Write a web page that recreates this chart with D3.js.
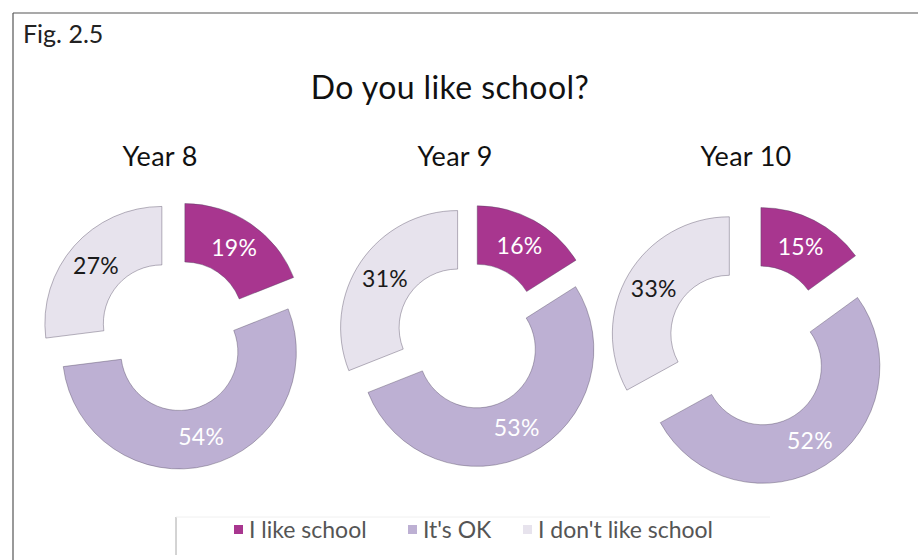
<!DOCTYPE html>
<html>
<head>
<meta charset="utf-8">
<script src="https://cdn.jsdelivr.net/npm/d3@7/dist/d3.min.js"></script>
<style>
  html, body { margin: 0; padding: 0; background: #fff; }
  svg { display: block; font-family: Lato, "Open Sans", sans-serif; }
</style>
</head>
<body>
<svg id="chart" width="918" height="560"></svg>
<script>
// Survey answers (percent) per school year
const years = ["Year 8", "Year 9", "Year 10"];
const categories = ["I like school", "It's OK", "I don't like school"];
const likeSchool = [19, 16, 15];
const itsOk = [54, 53, 52];
const dontLike = [27, 31, 33];

const colors = ["#a8368f", "#bdb0d3", "#e7e3ed"];
const labelColors = ["#ffffff", "#ffffff", "#1a1a1a"];

// Placement of each exploded donut and its heading
const layout = [
  { cx: 175, cy: 335, explode: 17.5, titleX: 160 },
  { cx: 470, cy: 336, explode: 15, titleX: 455 },
  { cx: 750, cy: 346, explode: 24, titleX: 746 }
];
const outerR = 117, innerR = 58.5;

const svg = d3.select("#chart");

// Frame (top and left edges)
svg.append("line").attr("x1", 13).attr("y1", 13).attr("x2", 918).attr("y2", 13)
  .attr("stroke", "#555").attr("stroke-width", 1.2);
svg.append("line").attr("x1", 13).attr("y1", 13).attr("x2", 13).attr("y2", 560)
  .attr("stroke", "#555").attr("stroke-width", 1.2);

svg.append("text").attr("x", 23).attr("y", 43)
  .attr("font-size", 25).attr("fill", "#222").text("Fig. 2.5");

svg.append("text").attr("x", 450).attr("y", 99).attr("text-anchor", "middle")
  .attr("font-size", 32).attr("letter-spacing", 0.4).attr("fill", "#111")
  .text("Do you like school?");

const pie = d3.pie().sort(null).value(d => d.value).startAngle(0).endAngle(2 * Math.PI);
const arc = d3.arc().innerRadius(innerR).outerRadius(outerR);

years.forEach((year, i) => {
  const rows = categories.map((c, k) => ({
    cat: c, k,
    value: [likeSchool, itsOk, dontLike][k][i]
  }));
  const L = layout[i];

  svg.append("text").attr("x", L.titleX).attr("y", 166).attr("text-anchor", "middle")
    .attr("font-size", 27).attr("letter-spacing", 0.3).attr("fill", "#111").text(year);

  const g = svg.append("g").attr("transform", `translate(${L.cx},${L.cy})`);

  const slices = g.selectAll("g.slice").data(pie(rows)).join("g")
    .attr("class", "slice")
    .attr("transform", d => {
      const a = (d.startAngle + d.endAngle) / 2;
      return `translate(${Math.sin(a) * L.explode},${-Math.cos(a) * L.explode})`;
    });

  slices.append("path")
    .attr("d", arc)
    .attr("fill", d => colors[d.data.k])
    .attr("stroke", "rgba(80,70,95,0.45)")
    .attr("stroke-width", 0.9);

  slices.append("text")
    .attr("transform", d => `translate(${arc.centroid(d)})`)
    .attr("text-anchor", "middle")
    .attr("dy", "0.36em")
    .attr("font-size", 23)
    .attr("letter-spacing", 0.3)
    .attr("fill", d => labelColors[d.data.k])
    .text(d => d.data.value + "%");
});

// Legend
const legend = svg.append("g");
legend.append("line").attr("x1", 176).attr("y1", 517).attr("x2", 176).attr("y2", 555)
  .attr("stroke", "#a8a8a8").attr("stroke-width", 1);
legend.append("line").attr("x1", 176).attr("y1", 517).attr("x2", 770).attr("y2", 517)
  .attr("stroke", "#f0f0f0").attr("stroke-width", 1);

const legendX = [234, 408, 523];
categories.forEach((c, k) => {
  legend.append("rect").attr("x", legendX[k]).attr("y", 525).attr("width", 9).attr("height", 9)
    .attr("fill", colors[k]);
  legend.append("text").attr("x", legendX[k] + 15).attr("y", 538)
    .attr("font-size", 23).attr("fill", "#555").text(c);
});
</script>
</body>
</html>
